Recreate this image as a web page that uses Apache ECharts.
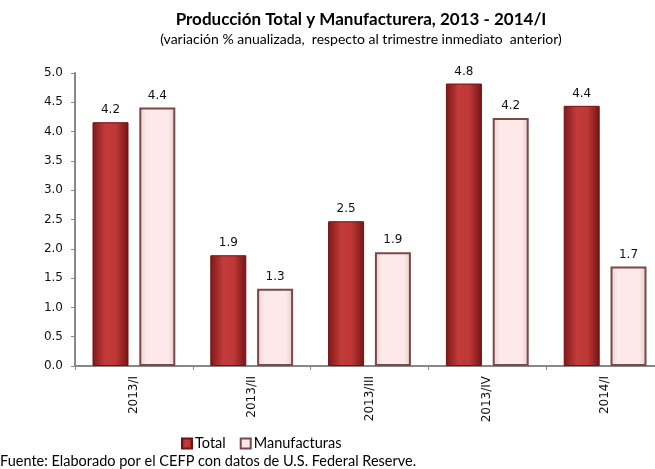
<!DOCTYPE html>
<html>
<head>
<meta charset="utf-8">
<script src="https://cdn.jsdelivr.net/npm/echarts@6/dist/echarts.min.js"></script>
<style>
  html, body { margin: 0; padding: 0; background: #fff; }
  #chart { width: 655px; height: 469px; }
</style>
</head>
<body>
<div id="chart"></div>
<script>
// datos del grafico
const categorias = ['2013/I', '2013/II', '2013/III', '2013/IV', '2014/I'];
const total = [4.16, 1.89, 2.47, 4.82, 4.44];
const manufacturas = [4.41, 1.32, 1.94, 4.23, 1.70];
const ticksY = [0, 5, 0.5]; // min, max, intervalo

const fuenteTexto = 'Lato, "Open Sans", sans-serif';
const fuenteNum = '"DejaVu Sans", Verdana, sans-serif';

const rojo = {
    type: 'linear', x: 0, y: 0, x2: 1, y2: 0,
    colorStops: [
        { offset: 0, color: '#7e1818' },
        { offset: 0.35, color: '#c23a3a' },
        { offset: 0.65, color: '#bf3838' },
        { offset: 1, color: '#761414' }
    ]
};
const rosa = {
    type: 'linear', x: 0, y: 0, x2: 1, y2: 0,
    colorStops: [
        { offset: 0, color: '#e9cfcf' },
        { offset: 0.2, color: '#fde9e9' },
        { offset: 0.8, color: '#fde9e9' },
        { offset: 1, color: '#e6caca' }
    ]
};

const etiqueta = {
    show: true,
    position: 'top',
    distance: 6,
    color: '#111',
    fontFamily: fuenteNum,
    fontSize: 12,
    formatter: (p) => p.value.toFixed(1)
};

let myChart = echarts.init(document.getElementById('chart'));
myChart.setOption({
    animation: false,
    title: {
        text: 'Producción Total y Manufacturera, 2013 - 2014/I',
        subtext: '(variación % anualizada,  respecto al trimestre inmediato  anterior)',
        left: 356,
        textAlign: 'center',
        top: 6,
        itemGap: 4,
        textStyle: { fontFamily: fuenteTexto, fontWeight: 'bold', fontSize: 17, color: '#000' },
        subtextStyle: { fontFamily: fuenteTexto, fontSize: 14, color: '#000' }
    },
    legend: {
        data: ['Total', 'Manufacturas'],
        left: 176,
        top: 431,
        itemWidth: 10,
        itemHeight: 10,
        itemGap: 14,
        icon: 'rect',
        textStyle: { fontFamily: fuenteTexto, fontSize: 14.5, color: '#000', padding: [0, 0, 0, -2] }
    },
    graphic: [{
        type: 'text',
        left: 0,
        top: 454,
        style: {
            text: 'Fuente: Elaborado por el CEFP con datos de U.S. Federal Reserve.',
            font: '14.5px ' + fuenteTexto,
            fill: '#000'
        }
    }],
    grid: {
        left: 75,
        top: 73,
        width: 589,
        height: 293,
        outerBoundsMode: 'none'
    },
    xAxis: {
        type: 'category',
        data: categorias,
        axisLine: { show: true, lineStyle: { color: '#888', width: 2 } },
        axisTick: { show: true, length: 4, lineStyle: { color: '#888' } },
        axisLabel: {
            rotate: 90,
            margin: 10,
            fontFamily: fuenteNum,
            fontSize: 12,
            color: '#111'
        }
    },
    yAxis: {
        type: 'value',
        min: ticksY[0],
        max: ticksY[1],
        interval: ticksY[2],
        splitLine: { show: false },
        axisLine: { show: true, lineStyle: { color: '#888', width: 2 } },
        axisTick: { show: true, length: 4, lineStyle: { color: '#888' } },
        axisLabel: {
            margin: 12,
            fontFamily: fuenteNum,
            fontSize: 12,
            color: '#111',
            formatter: (v) => v.toFixed(1)
        }
    },
    series: [
        {
            name: 'Total',
            type: 'bar',
            data: total,
            barWidth: 36,
            barGap: '30%',
            itemStyle: { color: rojo, borderColor: '#6e1212', borderWidth: 1 },
            label: etiqueta
        },
        {
            name: 'Manufacturas',
            type: 'bar',
            data: manufacturas,
            barWidth: 36,
            itemStyle: { color: rosa, borderColor: '#7a4848', borderWidth: 2 },
            label: etiqueta
        }
    ]
});
</script>
</body>
</html>
